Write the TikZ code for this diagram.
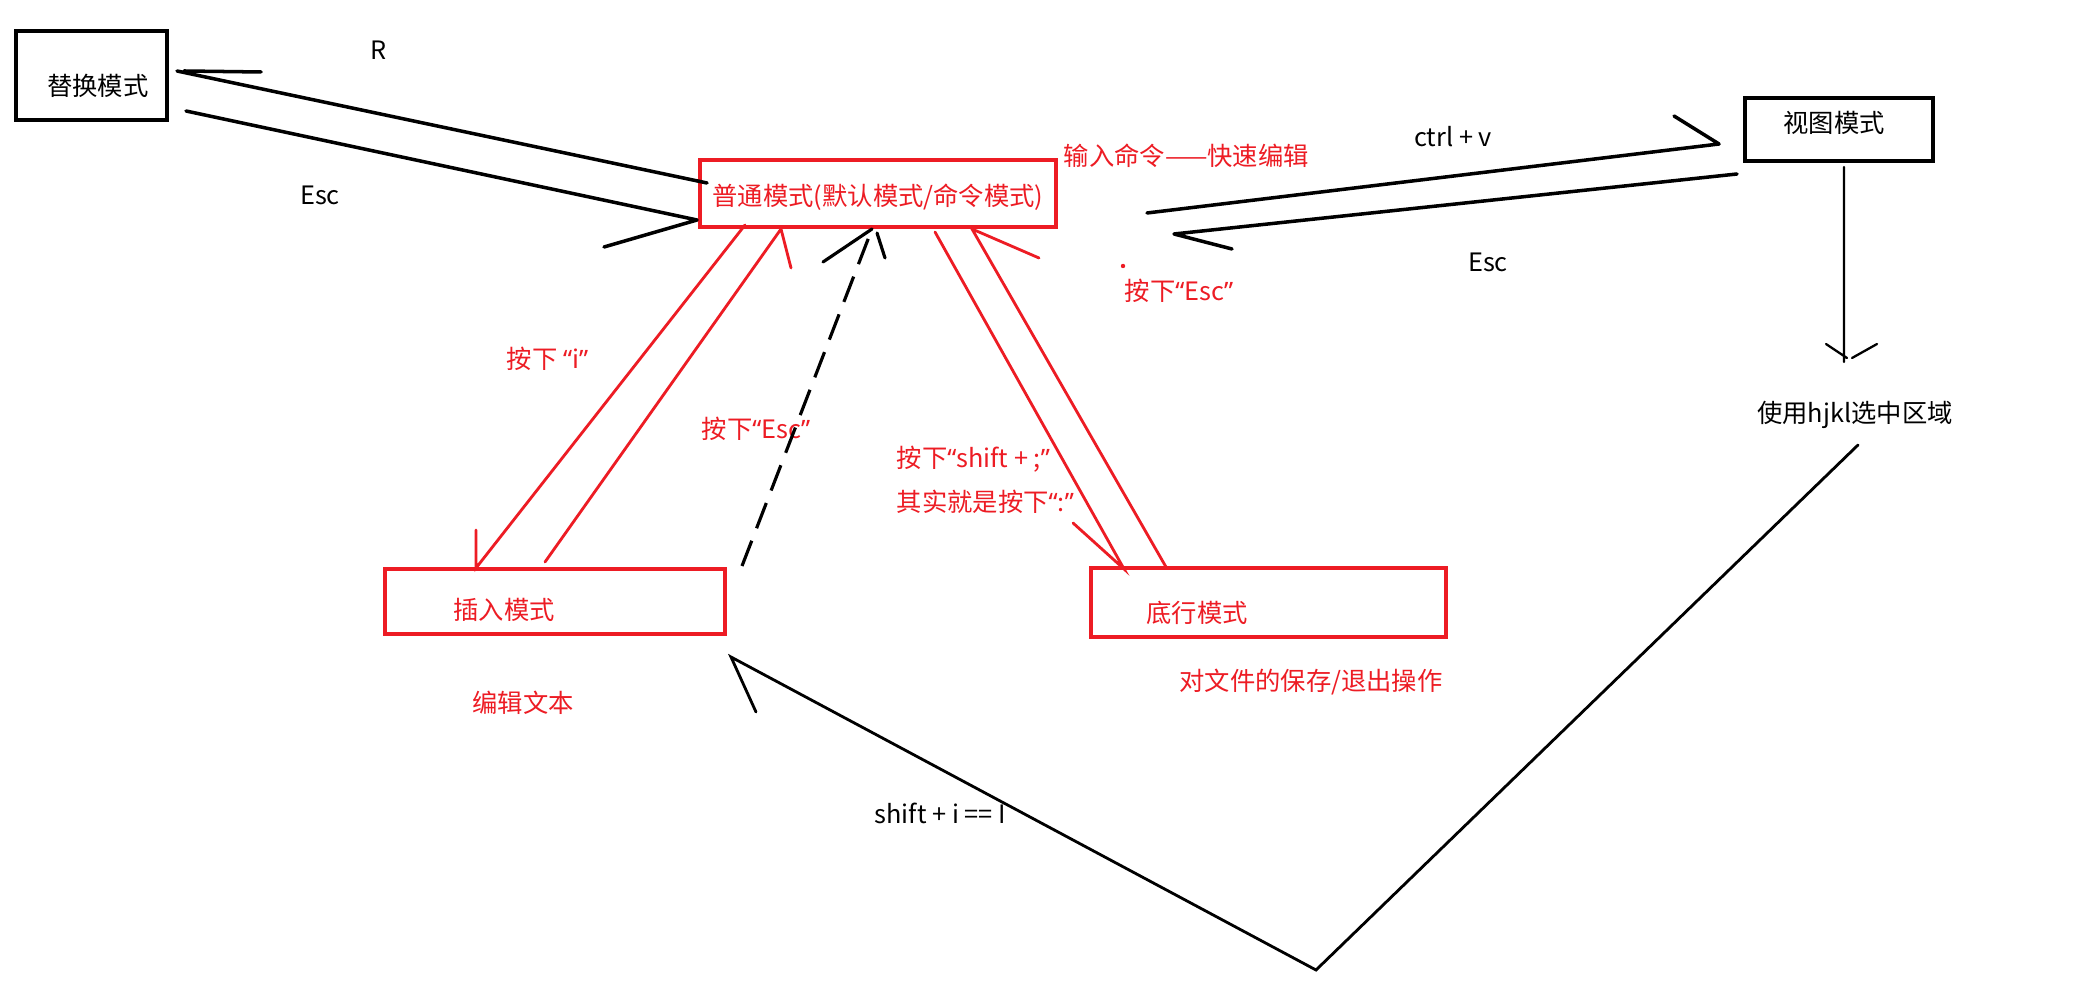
\documentclass[tikz,border=0pt]{standalone}
\usepackage{fontspec}
\setmainfont{Noto Sans CJK SC}
\newfontfamily\westfont{Noto Sans}
\newcommand\oq{{\westfont “}}
\newcommand\cq{{\westfont ”}}
\definecolor{pen}{RGB}{237,28,36}
\tikzset{
  blkbox/.style={draw=black,line width=1pt,inner sep=0pt},
  redbox/.style={blkbox,draw=pen},
  txt/.style={inner sep=0pt,font=\fontsize{7.2}{8.6}\selectfont},
  redtxt/.style={txt,text=pen},
  blkline/.style={line width=1pt,line cap=round,line join=round},
  thinline/.style={line width=0.65pt,line cap=round},
  redline/.style={line width=0.8pt,draw=pen,line cap=round},
  dashline/.style={line width=0.9pt,dash pattern=on 7.7pt off 3.8pt}
}

\begin{document}
\begin{tikzpicture}[x=0.01cm,y=-0.01cm]
  \fill[white] (0,0) rectangle (2092,986);
  % mode boxes
  \node[blkbox,minimum width=1.51cm,minimum height=0.89cm] (repl) at (91.5,75.5) {};
  \node[redbox,minimum width=3.56cm,minimum height=0.67cm] (normal) at (878,193.5) {};
  \node[blkbox,minimum width=1.88cm,minimum height=0.63cm] (view) at (1839,129.5) {};
  \node[redbox,minimum width=3.40cm,minimum height=0.65cm] (insert) at (555,601.5) {};
  \node[redbox,minimum width=3.55cm,minimum height=0.69cm] (bottom) at (1268.5,602.5) {};
  % box texts
  \node[txt] (repl-t) at (98,86) {替换模式};
  \node[redtxt] (normal-t) at (878,197) {普通模式(默认模式/命令模式)};
  \node[txt] (view-t) at (1834,123) {视图模式};
  \node[redtxt] (insert-t) at (504,610) {插入模式};
  \node[redtxt] (bottom-t) at (1197,613) {底行模式};
  \node[txt] (select) at (1855,415) {使用hjkl选中区域};
  % notes
  \node[redtxt,anchor=west] (cmd) at (1063,156) {输入命令——快速编辑};
  \node[redtxt] (edit) at (523,703) {编辑文本};
  \node[redtxt] (save) at (1311,682) {对文件的保存/退出操作};
  % edge labels
  \node[txt] (lblR) at (379,50) {R};
  \node[txt] (lblEscL) at (320,195) {Esc};
  \node[txt] (lblCtrl) at (1453,137) {ctrl + v};
  \node[txt] (lblEscR) at (1488,262) {Esc};
  \node[redtxt,anchor=west] (lblEscV) at (1124,291) {按下\oq Esc\cq};
  \fill[pen] (1123,266) circle (2.2);
  \node[redtxt,anchor=west] (lblI) at (506,359) {按下 \oq i\cq};
  \node[redtxt,anchor=west] (lblEscI) at (701,429) {按下\oq Esc\cq};
  \node[redtxt,anchor=west] (lblShift) at (896,459) {按下\oq shift + ;\cq};
  \node[redtxt,anchor=west] (lblColon) at (896,502) {其实就是按下\oq :\cq};
  \node[txt,anchor=west] (lblShiftI) at (874,813) {shift + i == I};
  % connector ends
  \coordinate (R0) at (707,183); \coordinate (R1) at (177,71);
  \coordinate (E0) at (186,111); \coordinate (E1) at (697,220);
  \coordinate (C0) at (1147,213); \coordinate (C1) at (1719,144);
  \coordinate (F0) at (1737,174); \coordinate (F1) at (1174,234);
  \coordinate (V0) at (1844,167); \coordinate (V1) at (1844,362);
  \coordinate (S0) at (1858,445); \coordinate (S1) at (1316,970); \coordinate (S2) at (731,657);
  \coordinate (D0) at (742,566); \coordinate (D1) at (872,229);
  \coordinate (I0) at (745,225); \coordinate (I1) at (476,568);
  \coordinate (J0) at (545,562); \coordinate (J1) at (781,229);
  \coordinate (K0) at (935,232); \coordinate (K1) at (1124,569);
  \coordinate (L0) at (1166,567); \coordinate (L1) at (972,229);
  % black connectors
  \draw[blkline] (R0) -- (R1) ++(7,0) -- ++(77,1);
  \draw[blkline] (E0) -- (E1) -- ++(-93,27);
  \draw[blkline] (C0) -- (C1) -- ++(-45,-28);
  \draw[blkline] (F0) -- (F1) -- ++(58,15);
  \draw[thinline] (V0) -- (V1) ++(-18,-18) -- ++(21,14) (V1) ++(33,-18) -- ++(-25,14);
  \draw[thinline,line width=0.8pt] (S0) -- (S1) -- (S2) -- ++(25,55);
  \draw[dashline] (D0) -- (D1);
  \draw[blkline,line width=0.9pt] (D1) ++(-49,33) -- (D1) ++(5,4) -- ++(8,25);
  % red connectors
  \draw[redline] (I0) -- (I1) -- ++(0,-38);
  \draw[redline] (J0) -- (J1) -- ++(10,39);
  \draw[redline] (K0) -- (K1) -- ++(-51,-46);
  \draw[redline] (L0) -- (L1) -- ++(67,29);
\end{tikzpicture}
\end{document}
